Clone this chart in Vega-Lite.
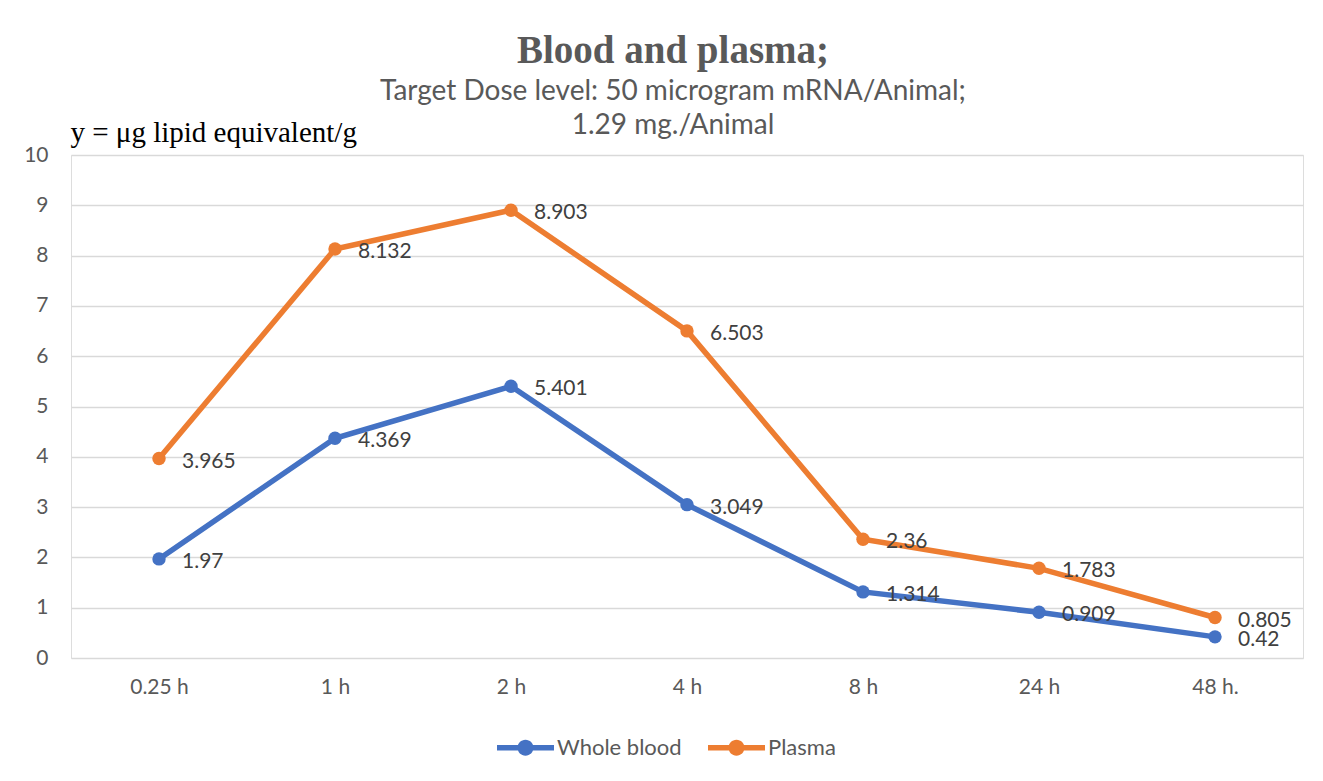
{
  "$schema": "https://vega.github.io/schema/vega-lite/v6.json",
  "width": 1232,
  "height": 503,
  "autosize": {"type": "none"},
  "padding": {"left": 71, "top": 155, "right": 20, "bottom": 123},
  "background": "white",
  "title": {
    "text": "Blood and plasma;",
    "subtitle": ["Target Dose level: 50 microgram mRNA/Animal;", "1.29 mg./Animal"],
    "anchor": "middle",
    "frame": "group",
    "dx": -14,
    "offset": -22,
    "font": "Liberation Serif",
    "fontSize": 39,
    "fontWeight": "bold",
    "color": "#595959",
    "subtitleFont": "Lato",
    "subtitleFontSize": 28,
    "subtitleColor": "#595959",
    "subtitlePadding": 7,
    "subtitleLineHeight": 34
  },
  "data": {
    "values": [
      {"time": "0.25 h", "series": "Whole blood", "value": 1.97},
      {"time": "1 h", "series": "Whole blood", "value": 4.369},
      {"time": "2 h", "series": "Whole blood", "value": 5.401},
      {"time": "4 h", "series": "Whole blood", "value": 3.049},
      {"time": "8 h", "series": "Whole blood", "value": 1.314},
      {"time": "24 h", "series": "Whole blood", "value": 0.909},
      {"time": "48 h.", "series": "Whole blood", "value": 0.42},
      {"time": "0.25 h", "series": "Plasma", "value": 3.965},
      {"time": "1 h", "series": "Plasma", "value": 8.132},
      {"time": "2 h", "series": "Plasma", "value": 8.903},
      {"time": "4 h", "series": "Plasma", "value": 6.503},
      {"time": "8 h", "series": "Plasma", "value": 2.36},
      {"time": "24 h", "series": "Plasma", "value": 1.783},
      {"time": "48 h.", "series": "Plasma", "value": 0.805}
    ]
  },
  "encoding": {
    "x": {
      "field": "time",
      "type": "ordinal",
      "sort": ["0.25 h", "1 h", "2 h", "4 h", "8 h", "24 h", "48 h."],
      "axis": {
        "title": null,
        "labelAngle": 0,
        "labelFont": "Lato",
        "labelFontSize": 21,
        "labelColor": "#595959",
        "labelPadding": 18,
        "ticks": false,
        "domain": false,
        "grid": false
      }
    },
    "y": {
      "field": "value",
      "type": "quantitative",
      "scale": {"domain": [0, 10], "nice": false},
      "axis": {
        "values": [0, 1, 2, 3, 4, 5, 6, 7, 8, 9, 10],
        "title": "y = μg lipid equivalent/g",
        "titleFont": "Liberation Serif",
        "titleFontSize": 29,
        "titleFontWeight": "normal",
        "titleColor": "#000000",
        "titleAngle": 0,
        "titleAlign": "left",
        "titleBaseline": "alphabetic",
        "titleX": -1,
        "titleY": -14,
        "labelFont": "Lato",
        "labelFontSize": 21,
        "labelColor": "#595959",
        "labelPadding": 23,
        "ticks": false,
        "domain": false,
        "grid": true,
        "gridColor": "#d9d9d9",
        "gridWidth": 1.5
      }
    },
    "color": {
      "field": "series",
      "type": "nominal",
      "scale": {"domain": ["Whole blood", "Plasma"], "range": ["#4472C4", "#ED7D31"]},
      "legend": {
        "title": null,
        "orient": "none",
        "direction": "horizontal",
        "legendX": 426,
        "legendY": 564,
        "labelFont": "Lato",
        "labelFontSize": 22,
        "labelColor": "#595959",
        "labelOffset": 3,
        "columnPadding": 26,
        "symbolType": "M -1 -0.1 L 1 -0.1 L 1 0.1 L -1 0.1 Z M 0.28 0 A 0.28 0.28 0 1 1 -0.28 0 A 0.28 0.28 0 1 1 0.28 0 Z",
        "symbolSize": 3249,
        "symbolStrokeWidth": 0,
        "encode": {"symbols": {"update": {"fill": {"scale": "color", "field": "value"}, "fillOpacity": {"value": 1}}}}
      }
    }
  },
  "layer": [
    {"mark": {"type": "line", "strokeWidth": 5.5}},
    {"mark": {"type": "point", "filled": true, "size": 180, "opacity": 1}},
    {
      "mark": {"type": "text", "align": "left", "baseline": "middle", "dx": 23, "dy": 3, "font": "Lato", "fontSize": 21, "color": "#404040"},
      "encoding": {
        "text": {"field": "value", "type": "nominal"},
        "color": {"value": "#404040"}
      }
    }
  ]
}
